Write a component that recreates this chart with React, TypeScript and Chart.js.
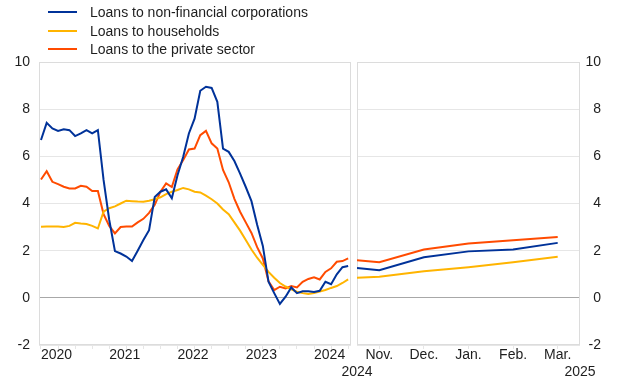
import React, { useEffect, useRef } from 'react';
import { Chart, registerables } from 'chart.js';

Chart.register(...registerables);

const FONT = "Arial, 'Liberation Sans', Helvetica, sans-serif";
const TEXT = '#1e1e1e';
const GRID = '#e6e6e6';
const ZERO = '#a8a8a8';
const BOX = '#dcdcdc';

const seriesNames = [
  'Loans to non-financial corporations',
  'Loans to households',
  'Loans to the private sector',
];
const seriesColors = ['#003299', '#ffb400', '#ff4b00'];

// Left panel: monthly, Jan. 2020 - Jul. 2024
const leftMonths = [
  '2020-01', '2020-02', '2020-03', '2020-04', '2020-05', '2020-06', '2020-07', '2020-08', '2020-09', '2020-10', '2020-11', '2020-12',
  '2021-01', '2021-02', '2021-03', '2021-04', '2021-05', '2021-06', '2021-07', '2021-08', '2021-09', '2021-10', '2021-11', '2021-12',
  '2022-01', '2022-02', '2022-03', '2022-04', '2022-05', '2022-06', '2022-07', '2022-08', '2022-09', '2022-10', '2022-11', '2022-12',
  '2023-01', '2023-02', '2023-03', '2023-04', '2023-05', '2023-06', '2023-07', '2023-08', '2023-09', '2023-10', '2023-11', '2023-12',
  '2024-01', '2024-02', '2024-03', '2024-04', '2024-05', '2024-06', '2024-07',
];

const nfcLeft = [
  6.69, 7.42, 7.18, 7.08, 7.15, 7.11, 6.86, 6.97, 7.11, 6.97, 7.11,
  5.0, 3.3, 1.98, 1.88, 1.75, 1.56, 2.0, 2.45, 2.87,
  4.28, 4.5, 4.6, 4.22, 5.2, 5.98, 6.97, 7.6, 8.78, 8.95,
  8.9, 8.31, 6.33, 6.19, 5.8, 5.27, 4.7, 4.1, 3.1, 2.2,
  0.68, 0.2, -0.26, 0.05, 0.44, 0.2, 0.28, 0.28, 0.25, 0.3,
  0.68, 0.58, 1.0, 1.3, 1.35,
];

const hhLeft = [
  3.01, 3.02, 3.02, 3.02, 3.0, 3.05, 3.18, 3.15, 3.13, 3.05, 2.94,
  3.65, 3.8, 3.88, 4.0, 4.12, 4.1, 4.08, 4.07, 4.12,
  4.18, 4.26, 4.4, 4.5, 4.57, 4.66, 4.6, 4.5, 4.47, 4.33,
  4.18, 4.0, 3.75, 3.55, 3.2, 2.85, 2.45, 2.05, 1.7, 1.4,
  1.1, 0.85, 0.63, 0.48, 0.36, 0.26, 0.2, 0.16, 0.2, 0.27,
  0.33, 0.42, 0.5, 0.63, 0.78,
];

const pslLeft = [
  5.02, 5.37, 4.92, 4.82, 4.71, 4.64, 4.64, 4.75, 4.71, 4.53, 4.53,
  3.55, 3.05, 2.73, 3.0, 3.02, 3.02, 3.2, 3.35, 3.6,
  3.95, 4.5, 4.85, 4.7, 5.45, 5.84, 6.29, 6.33, 6.9, 7.08,
  6.55, 6.33, 5.42, 4.9, 4.2, 3.65, 3.2, 2.75, 2.15, 1.67,
  0.7, 0.33, 0.47, 0.4, 0.5, 0.44, 0.68, 0.8, 0.87, 0.78,
  1.1, 1.25, 1.53, 1.56, 1.67,
];

// Right panel: months counted from Nov. 2024 (first value = end of Oct. 2024)
const rightPeriod = [-0.5, 0, 1, 2, 3, 4];
const rightMonthLabels = ['Nov.', 'Dec.', 'Jan.', 'Feb.', 'Mar.'];
const rightYearLabels = ['2024', '2025'];
const nfcRight = [1.27, 1.17, 1.72, 1.97, 2.05, 2.33];
const hhRight = [0.85, 0.89, 1.13, 1.3, 1.51, 1.74];
const pslRight = [1.59, 1.51, 2.05, 2.3, 2.44, 2.58];

const Y_MIN = -2;
const Y_MAX = 10;
const Y_STEP = 2;

const boxPlugin = {
  id: 'panelBox',
  beforeDatasetsDraw(chart: any) {
    const { ctx, chartArea: a } = chart;
    ctx.save();
    ctx.strokeStyle = BOX;
    ctx.lineWidth = 1;
    const l = Math.round(a.left) + 0.5;
    const t = Math.round(a.top) + 0.5;
    const r = Math.round(a.right) - 0.5;
    const b = Math.round(a.bottom) - 0.5;
    ctx.strokeRect(l, t, r - l, b - t);
    ctx.restore();
  },
};

const tickFont = { size: 14, family: FONT };

function makeDatasets(xs: number[], series: number[][]) {
  return series.map((vals, k) => ({
    label: seriesNames[k],
    data: vals.map((v, i) => ({ x: xs[i], y: v })),
    borderColor: seriesColors[k],
    backgroundColor: seriesColors[k],
    borderWidth: 2,
    pointRadius: 0,
    tension: 0,
    fill: false,
  }));
}

function yScale(position: 'left' | 'right') {
  return {
    type: 'linear',
    position,
    min: Y_MIN,
    max: Y_MAX,
    afterFit: (s: any) => {
      s.width = position === 'left' ? 39 : 21;
    },
    grid: {
      drawTicks: false,
      color: (c: any) => (c.tick && c.tick.value === 0 ? ZERO : GRID),
      lineWidth: 1,
    },
    border: { display: false },
    ticks: {
      stepSize: Y_STEP,
      padding: 9,
      crossAlign: position === 'left' ? 'near' : 'far',
      color: TEXT,
      font: tickFont,
    },
  };
}

function leftConfig(): any {
  const idx = leftMonths.map((_, i) => i);
  return {
    type: 'line',
    data: { datasets: makeDatasets(idx, [nfcLeft, hhLeft, pslLeft]) },
    options: {
      animation: false,
      responsive: false,
      layout: { padding: { top: 62, right: 3, bottom: 0, left: 0 } },
      plugins: { legend: { display: false }, tooltip: { enabled: false } },
      scales: {
        x: {
          type: 'linear',
          min: -0.35,
          max: 54.5,
          bounds: 'data',
          afterBuildTicks: (s: any) => {
            s.ticks = idx.filter((i) => i % 3 === 0).map((v) => ({ value: v }));
          },
          afterFit: (s: any) => {
            s.height = 42;
          },
          grid: { drawOnChartArea: false, drawTicks: true, tickLength: 4, color: GRID },
          border: { display: false },
          ticks: {
            autoSkip: false,
            maxRotation: 0,
            align: 'start',
            padding: -2,
            color: TEXT,
            font: tickFont,
            callback: (v: number) => (v % 12 === 0 ? leftMonths[v].slice(0, 4) : ''),
          },
        },
        y: yScale('left'),
      },
    },
    plugins: [boxPlugin],
  };
}

function rightConfig(): any {
  const first = rightPeriod[0];
  const last = rightMonthLabels.length - 1 + 0.5;
  return {
    type: 'line',
    data: { datasets: makeDatasets(rightPeriod, [nfcRight, hhRight, pslRight]) },
    options: {
      animation: false,
      responsive: false,
      layout: { padding: { top: 62, right: 19, bottom: 0, left: 27 } },
      plugins: { legend: { display: false }, tooltip: { enabled: false } },
      scales: {
        x: {
          type: 'linear',
          min: first,
          max: last,
          bounds: 'data',
          afterBuildTicks: (s: any) => {
            const vals = [first, ...rightMonthLabels.map((_, i) => i), last];
            s.ticks = vals.map((v) => ({ value: v }));
          },
          afterFit: (s: any) => {
            s.height = 42;
          },
          grid: {
            drawOnChartArea: false,
            drawTicks: true,
            tickLength: 4,
            color: (c: any) =>
              c.tick && (c.tick.value === first || c.tick.value === last) ? 'rgba(0,0,0,0)' : GRID,
          },
          border: { display: false },
          ticks: {
            autoSkip: false,
            maxRotation: 0,
            padding: -2,
            color: TEXT,
            font: tickFont,
            callback: (v: number) => {
              if (v === first) return ['', rightYearLabels[0]];
              if (v === last) return ['', rightYearLabels[1]];
              return rightMonthLabels[v] ?? '';
            },
          },
        },
        y: yScale('right'),
      },
    },
    plugins: [boxPlugin],
  };
}

function ChartCanvas(props: { config: () => any; left: number; width: number }) {
  const ref = useRef<HTMLCanvasElement | null>(null);
  useEffect(() => {
    if (!ref.current) return;
    const chart = new Chart(ref.current, props.config());
    return () => chart.destroy();
  }, []);
  return (
    <canvas
      ref={ref}
      width={props.width}
      height={387}
      style={{ position: 'absolute', left: props.left, top: 0, width: props.width, height: 387, display: 'block' }}
    />
  );
}

export default function App() {
  return (
    <div
      style={{
        position: 'fixed',
        left: 0,
        top: 0,
        width: 620,
        height: 387,
        background: '#ffffff',
        overflow: 'hidden',
        fontFamily: FONT,
      }}
    >
      <ChartCanvas config={leftConfig} left={0} width={354} />
      <ChartCanvas config={rightConfig} left={330} width={290} />
      {seriesNames.map((name, k) => {
        const cy = 12.3 + k * 18.4;
        return (
          <div key={name}>
            <div
              style={{
                position: 'absolute',
                left: 48,
                top: Math.round(cy - 1),
                width: 29,
                height: 2,
                background: seriesColors[k],
              }}
            />
            <div
              style={{
                position: 'absolute',
                left: 90,
                top: Math.round(cy - 9),
                height: 18,
                lineHeight: '18px',
                fontSize: 14,
                color: TEXT,
                whiteSpace: 'nowrap',
              }}
            >
              {name}
            </div>
          </div>
        );
      })}
    </div>
  );
}
